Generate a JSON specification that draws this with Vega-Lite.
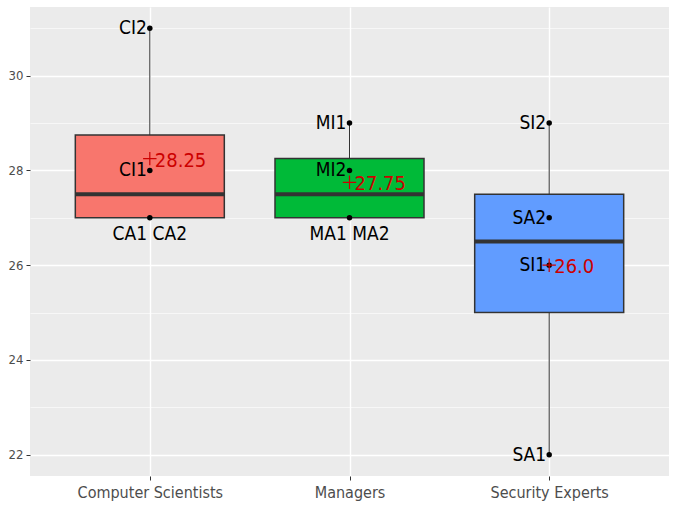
{
  "$schema": "https://vega.github.io/schema/vega-lite/v6.json",
  "width": 639,
  "height": 469,
  "autosize": {"type": "none"},
  "padding": {"left": 30, "top": 7, "right": 5, "bottom": 46},
  "background": "white",
  "config": {
    "view": {"fill": "#EBEBEB", "stroke": null},
    "axis": {"domain": false, "gridColor": "white", "labelColor": "#4D4D4D", "labelFont": "DejaVu Sans Condensed, Liberation Sans, sans-serif", "tickColor": "#333333", "title": null}
  },
  "datasets": {
    "summary": [
      {"group": "Computer Scientists", "lower": 27, "q1": 27, "median": 27.5, "q3": 28.75, "upper": 31, "mean": 28.25, "meanLabel": "28.25"},
      {"group": "Managers", "lower": 27, "q1": 27, "median": 27.5, "q3": 28.25, "upper": 29, "mean": 27.75, "meanLabel": "27.75"},
      {"group": "Security Experts", "lower": 22, "q1": 25, "median": 26.5, "q3": 27.5, "upper": 29, "mean": 26.0, "meanLabel": "26.0"}
    ],
    "points": [
      {"group": "Computer Scientists", "value": 31, "label": "CI2", "pos": "left"},
      {"group": "Computer Scientists", "value": 28, "label": "CI1", "pos": "left"},
      {"group": "Computer Scientists", "value": 27, "label": "CA1 CA2", "pos": "below"},
      {"group": "Managers", "value": 29, "label": "MI1", "pos": "left"},
      {"group": "Managers", "value": 28, "label": "MI2", "pos": "left"},
      {"group": "Managers", "value": 27, "label": "MA1 MA2", "pos": "below"},
      {"group": "Security Experts", "value": 29, "label": "SI2", "pos": "left"},
      {"group": "Security Experts", "value": 27, "label": "SA2", "pos": "left"},
      {"group": "Security Experts", "value": 26, "label": "SI1", "pos": "left"},
      {"group": "Security Experts", "value": 22, "label": "SA1", "pos": "left"}
    ]
  },
  "encoding": {
    "x": {
      "field": "group", "type": "nominal",
      "scale": {"type": "point", "padding": 0.6, "domain": ["Computer Scientists", "Managers", "Security Experts"]},
      "axis": {"labelAngle": 0, "labelFontSize": 16, "grid": true, "gridWidth": 1.4, "tickSize": 4, "labelPadding": 4}
    }
  },
  "layer": [
    {
      "data": {"name": "summary"},
      "mark": {"type": "rule", "color": "#333333", "strokeWidth": 1},
      "encoding": {
        "y": {"field": "lower", "type": "quantitative", "scale": {"domain": [21.55, 31.45], "nice": false, "zero": false},
          "axis": {"values": [22, 23, 24, 25, 26, 27, 28, 29, 30, 31], "labelFontSize": 13, "tickSize": 4, "labelPadding": 3,
            "labelExpr": "datum.value % 2 == 0 ? datum.label : ''",
            "gridWidth": {"condition": {"test": "datum.value % 2 == 1", "value": 0.6}, "value": 1.4},
            "tickOpacity": {"condition": {"test": "datum.value % 2 == 1", "value": 0}, "value": 1}}},
        "y2": {"field": "upper"}
      }
    },
    {
      "data": {"name": "summary"},
      "mark": {"type": "bar", "size": 149, "stroke": "#333333", "strokeWidth": 1.5},
      "encoding": {
        "y": {"field": "q1", "type": "quantitative"},
        "y2": {"field": "q3"},
        "fill": {"field": "group", "type": "nominal", "legend": null,
          "scale": {"domain": ["Computer Scientists", "Managers", "Security Experts"], "range": ["#F8766D", "#00BA38", "#619CFF"]}}
      }
    },
    {
      "data": {"name": "summary"},
      "mark": {"type": "tick", "size": 149, "thickness": 4, "color": "#333333", "opacity": 1},
      "encoding": {"y": {"field": "median", "type": "quantitative"}}
    },
    {
      "data": {"name": "points"},
      "mark": {"type": "point", "filled": true, "color": "black", "size": 30, "opacity": 1},
      "encoding": {"y": {"field": "value", "type": "quantitative"}}
    },
    {
      "data": {"name": "points"},
      "transform": [{"filter": "datum.pos == 'left'"}],
      "mark": {"type": "text", "align": "right", "baseline": "middle", "dx": -3, "font": "DejaVu Sans Condensed, Liberation Sans, sans-serif", "fontSize": 19, "color": "black"},
      "encoding": {"y": {"field": "value", "type": "quantitative"}, "text": {"field": "label"}}
    },
    {
      "data": {"name": "points"},
      "transform": [{"filter": "datum.pos == 'below'"}],
      "mark": {"type": "text", "align": "center", "baseline": "top", "dy": 7, "font": "DejaVu Sans Condensed, Liberation Sans, sans-serif", "fontSize": 19, "color": "black"},
      "encoding": {"y": {"field": "value", "type": "quantitative"}, "text": {"field": "label"}}
    },
    {
      "data": {"name": "summary"},
      "mark": {"type": "point", "shape": "M-1,0H1M0,-1V1", "filled": false, "stroke": "#CC0000", "strokeWidth": 1.2, "size": 180, "opacity": 1},
      "encoding": {"y": {"field": "mean", "type": "quantitative"}}
    },
    {
      "data": {"name": "summary"},
      "mark": {"type": "text", "align": "left", "baseline": "middle", "dx": 5, "dy": 2, "font": "DejaVu Sans Condensed, Liberation Sans, sans-serif", "fontSize": 20, "color": "#CC0000"},
      "encoding": {"y": {"field": "mean", "type": "quantitative"}, "text": {"field": "meanLabel"}}
    }
  ]
}
